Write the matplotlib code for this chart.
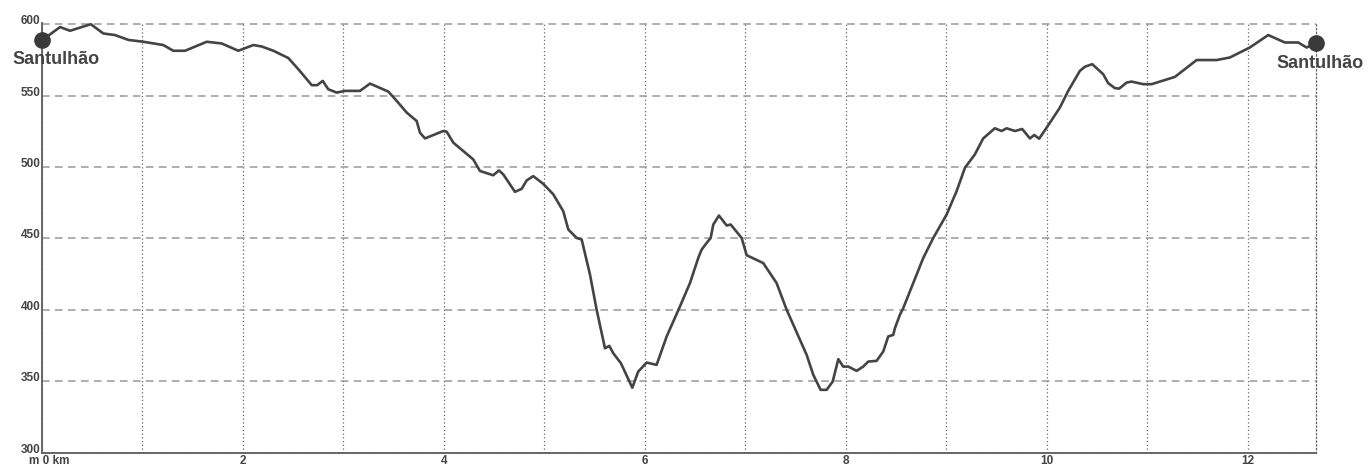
import matplotlib
matplotlib.use("Agg")
import matplotlib.pyplot as plt
from matplotlib.ticker import MultipleLocator, FuncFormatter

# elevation profile: distance (km) and altitude (m)
dist_km = [0.000, 0.066, 0.182, 0.282, 0.488, 0.613, 0.729, 0.862, 1.011, 1.210,
           1.309, 1.426, 1.642, 1.791, 1.956, 2.106, 2.189, 2.305, 2.454, 2.553,
           2.687, 2.742, 2.796, 2.852, 2.935, 3.018, 3.167, 3.267, 3.449, 3.532,
           3.632, 3.731, 3.764, 3.814, 3.996, 4.030, 4.096, 4.294, 4.361, 4.493,
           4.550, 4.593, 4.709, 4.776, 4.826, 4.891, 4.991, 5.091, 5.190, 5.240,
           5.323, 5.373, 5.456, 5.522, 5.605, 5.648, 5.688, 5.764, 5.877, 5.936,
           6.020, 6.119, 6.219, 6.351, 6.451, 6.533, 6.567, 6.617, 6.657, 6.683,
           6.739, 6.816, 6.856, 6.965, 7.015, 7.180, 7.313, 7.413, 7.612, 7.678,
           7.751, 7.811, 7.871, 7.927, 7.976, 8.026, 8.109, 8.175, 8.225, 8.308,
           8.374, 8.424, 8.474, 8.490, 8.540, 8.573, 8.772, 8.872, 9.005, 9.104,
           9.187, 9.286, 9.369, 9.485, 9.552, 9.602, 9.684, 9.757, 9.834, 9.877,
           9.926, 10.033, 10.132, 10.215, 10.331, 10.381, 10.454, 10.563, 10.613, 10.680,
           10.723, 10.796, 10.846, 10.961, 11.045, 11.277, 11.493, 11.692, 11.824, 12.023,
           12.205, 12.371, 12.504, 12.587, 12.677]
alt_m = [589, 592, 598, 595.4, 600, 593.5, 592.4, 589, 587.7, 585.4,
         581.4, 581.4, 587.7, 586.5, 581.4, 585.4, 584.4, 581.4, 576.3, 568.5,
         557.3, 557.3, 560.3, 554.4, 552.1, 553.3, 553.3, 558.4, 552.8, 546.3,
         538.1, 532.2, 524, 520, 525.2, 524.7, 517, 505.3, 497.2, 494.2,
         497.6, 494.8, 482.6, 484.7, 490.6, 493.6, 488.2, 480.8, 469, 456.2,
         450.3, 449.2, 424.6, 400, 373, 374.7, 369.5, 362.5, 345.4, 356.7,
         363, 361.4, 381.3, 402.3, 418.7, 436.2, 442.1, 446.8, 450.3, 459.7,
         466, 459, 459.7, 450.3, 438.2, 432.7, 418.7, 400, 368.4, 354.4,
         343.9, 343.9, 349.7, 365.4, 360.2, 360.2, 357.2, 360.2, 363.7, 364.2,
         370.7, 381.3, 382.4, 387, 396.5, 401.1, 436.2, 450.3, 466.7, 483,
         499.4, 508.8, 520, 527.1, 525.2, 527.1, 525.2, 526.6, 520, 522.4,
         519.8, 531, 541.6, 553.3, 567.3, 570.2, 572, 565, 558.7, 555.2,
         554.9, 559.1, 559.8, 558, 558, 563.1, 574.9, 574.9, 576.7, 583.7,
         592.4, 587.2, 587.2, 583.7, 586.5]

start_name = "Santulhão"
end_name = "Santulhão"

plt.rcParams['font.family'] = ['Liberation Sans', 'DejaVu Sans']

fig = plt.figure(figsize=(13.69, 4.67), dpi=100)
ax = fig.add_axes([0.0305, 0.031, 0.9305, 0.9187])

ax.plot(dist_km, alt_m, color='#444444', lw=1.9, zorder=3, solid_joinstyle='round')

# start / end markers
ax.plot([dist_km[0], dist_km[-1]], [alt_m[0], alt_m[-1]], 'o', color='#3a3a3a',
        ms=11, zorder=4, clip_on=False)
ax.annotate(start_name, (dist_km[0], alt_m[0]), xytext=(10, -17), textcoords='offset points',
            ha='center', va='baseline', fontsize=13, fontweight='bold', color='#444444',
            annotation_clip=False)
ax.annotate(end_name, (dist_km[-1], alt_m[-1]), xytext=(3, -18), textcoords='offset points',
            ha='center', va='baseline', fontsize=13, fontweight='bold', color='#444444',
            annotation_clip=False)

ax.set_xlim(0, dist_km[-1])
ax.set_ylim(300, 600.5)

ax.xaxis.set_major_locator(MultipleLocator(1))
ax.yaxis.set_major_locator(MultipleLocator(50))
ax.xaxis.set_major_formatter(FuncFormatter(
    lambda v, p: '%d' % v if (round(v) % 2 == 0 and round(v) > 0) else ''))
ax.yaxis.set_major_formatter(FuncFormatter(lambda v, p: '%d' % v))

ax.tick_params(length=0, labelsize=8.5, labelcolor='#444444')
ax.tick_params(axis='x', pad=2)
ax.tick_params(axis='y', pad=1)
for lab in ax.get_xticklabels() + ax.get_yticklabels():
    lab.set_fontweight('bold')
for lab in ax.get_yticklabels():
    lab.set_verticalalignment('baseline')

ax.annotate("m 0 km", (0, 0), xycoords='axes fraction', xytext=(-9.5, -2),
            textcoords='offset points', ha='left', va='top',
            fontsize=8.5, fontweight='bold', color='#444444')

ax.xaxis.grid(True, color='#666666', lw=0.9, linestyle=(0, (1, 2)))
ax.yaxis.grid(True, color='#999999', lw=1.1, linestyle=(0, (5, 3.5)))
ax.set_axisbelow(True)

ax.spines['top'].set_visible(False)
ax.spines['right'].set_color('#666666')
ax.spines['right'].set_linestyle((0, (1, 2)))
ax.spines['right'].set_linewidth(0.9)
for s in ('left', 'bottom'):
    ax.spines[s].set_color('#666666')
    ax.spines[s].set_linewidth(1.4)
ax.spines['bottom'].set_zorder(2.5)

fig.savefig("out.png", dpi=100)
